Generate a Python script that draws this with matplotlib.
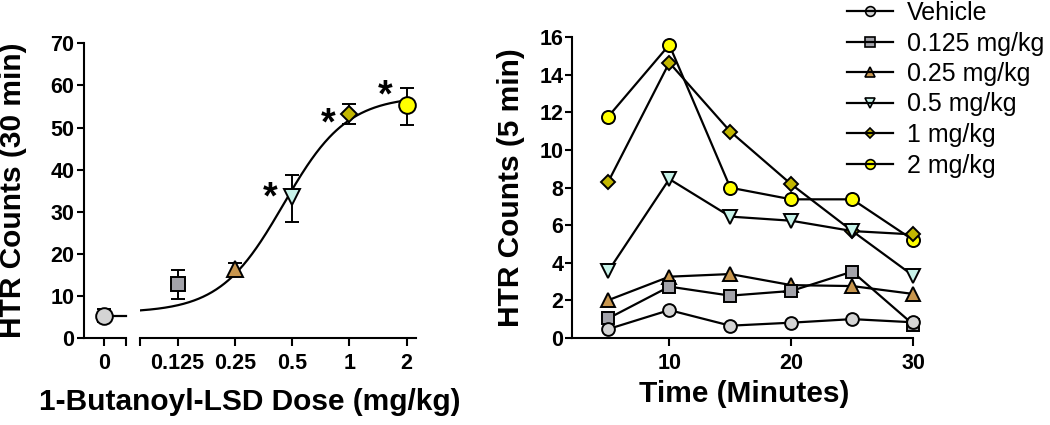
import numpy as np
import matplotlib
matplotlib.use("Agg")
import matplotlib.pyplot as plt
from matplotlib.lines import Line2D
from matplotlib.legend_handler import HandlerTuple

plt.rcParams['font.family'] = ['Liberation Sans', 'DejaVu Sans']

# ---------------- data ----------------
# Left panel: dose response (30 min totals)
dose_labels = ['0.125', '0.25', '0.5', '1', '2']
doses = [0.125, 0.25, 0.5, 1.0, 2.0]
dose_means = [12.8, 16.5, 33.5, 53.3, 55.4]
dose_err_low = [3.5, 1.2, 5.9, 2.4, 4.7]
dose_err_high = [3.4, 1.2, 5.3, 2.3, 4.1]
vehicle_mean = 5.3
vehicle_err = 1.5
signif = [False, False, True, True, True]
star_y = [34.2, 51.6, 58.4]

# fitted sigmoid (4-parameter logistic)
fit_bottom, fit_top, fit_ec50, fit_hill = 6.0, 57.5, 0.45, 2.6
fit_range = (0.08, 2.0)

# Right panel: time course (5 min bins)
times = [5, 10, 15, 20, 25, 30]
series_names = ['Vehicle', '0.125 mg/kg', '0.25 mg/kg', '0.5 mg/kg', '1 mg/kg', '2 mg/kg']
vehicle_tc = [0.46, 1.47, 0.64, 0.80, 0.99, 0.82]
d0125_tc = [1.03, 2.72, 2.24, 2.49, 3.52, 0.70]
d025_tc = [2.00, 3.25, 3.39, 2.80, 2.75, 2.33]
d05_tc = [3.55, 8.45, 6.45, 6.23, 5.68, 3.30]
d1_tc = [8.31, 14.65, 10.98, 8.17, 5.68, 5.50]
d2_tc = [11.78, 15.60, 7.99, 7.37, 7.37, 5.20]

# ---------------- styles ----------------
colors = ['#d4d4d4', '#a3a3aa', '#c8964e', '#c8f4ea', '#c2b600', '#ffff00']
markers = ['o', 's', '^', 'v', 'D', 'o']
ms_left = [12, 10, 12, 12, 8.5, 12]
ms_right = [9.2, 9.0, 9.5, 9.5, 7.3, 9.4]
LW = 1.6
EW = 1.4
TICK_FS = 15.5
LABEL_FS = 21.5

fig = plt.figure(figsize=(10.5, 4.25), dpi=100)
W, H = 1050.0, 425.0

def rect(x0, x1, ytop, ybot):
    return [x0 / W, 1 - ybot / H, (x1 - x0) / W, (ybot - ytop) / H]

ax0 = fig.add_axes(rect(84, 125.7, 43.3, 338))
ax1 = fig.add_axes(rect(140, 416, 43.3, 338))
ax2 = fig.add_axes(rect(571.7, 913.3, 37.3, 337.7))

for ax in (ax0, ax1, ax2):
    for s in ('top', 'right'):
        ax.spines[s].set_visible(False)
    for s in ('left', 'bottom'):
        ax.spines[s].set_linewidth(1.5)
    ax.tick_params(direction='out', length=6, width=1.5, labelsize=TICK_FS, pad=5)

def bold_ticks(ax):
    for lab in ax.get_xticklabels() + ax.get_yticklabels():
        lab.set_fontweight('bold')

# ----- left: vehicle segment -----
ax0.set_xlim(-1.0, 1.05)
ax0.set_ylim(0, 70)
ax0.set_yticks(np.arange(0, 71, 10))
ax0.set_xticks([0, 1.05])
ax0.set_xticklabels(['0', ''])
ax0.tick_params(axis='y', pad=2, length=5)
bold_ticks(ax0)
ax0.plot([0, 1.05], [vehicle_mean, vehicle_mean], color='k', lw=LW, zorder=2, clip_on=False)
ax0.errorbar([0], [vehicle_mean], yerr=[[vehicle_err], [vehicle_err]], fmt='none',
             ecolor='k', elinewidth=EW, capsize=5, capthick=EW, zorder=3)
ax0.plot([0], [vehicle_mean], marker='o', ms=ms_left[0], mfc=colors[0], mec='k',
         mew=EW, ls='none', zorder=4, clip_on=False)

# ----- left: dose segment -----
ax1.set_xscale('log')
ax1.set_xlim(0.0792, 2.24)
ax1.set_ylim(0, 70)
ax1.spines['left'].set_visible(False)
ax1.set_yticks([])
ax1.set_xticks([0.0792] + doses)
ax1.set_xticklabels([''] + dose_labels)
ax1.minorticks_off()
bold_ticks(ax1)

xf = np.logspace(np.log10(fit_range[0]), np.log10(fit_range[1]), 300)
yf = fit_bottom + (fit_top - fit_bottom) / (1 + (fit_ec50 / xf) ** fit_hill)
ax1.plot(xf, yf, color='k', lw=LW, zorder=2)

ax1.errorbar(doses, dose_means, yerr=[dose_err_low, dose_err_high], fmt='none',
             ecolor='k', elinewidth=EW, capsize=5, capthick=EW, zorder=3)
for i, (d, m) in enumerate(zip(doses, dose_means)):
    ax1.plot([d], [m], marker=markers[i + 1], ms=ms_left[i + 1], mfc=colors[i + 1],
             mec='k', mew=EW, ls='none', zorder=4, clip_on=False)

k = 0
for d, sig in zip(doses, signif):
    if sig:
        ax1.text(d * 0.77, star_y[k], '*', fontsize=27, fontweight='bold',
                 ha='center', va='center_baseline', zorder=5)
        k += 1

fig.text(13 / W, 1 - 190.5 / H, 'HTR Counts (30 min)', rotation=90, ha='center',
         va='center', fontsize=LABEL_FS, fontweight='bold')
fig.text(250 / W, 1 - 402 / H, '1-Butanoyl-LSD Dose (mg/kg)', ha='center',
         va='center', fontsize=LABEL_FS, fontweight='bold')

# ----- right: time course -----
tc = [vehicle_tc, d0125_tc, d025_tc, d05_tc, d1_tc, d2_tc]
ax2.set_xlim(2, 30)
ax2.set_ylim(0, 16)
ax2.set_xticks([10, 20, 30])
ax2.set_yticks(np.arange(0, 17, 2))
ax2.tick_params(axis='y', pad=1, length=5)
bold_ticks(ax2)

handles = []
for i in range(6):
    z = 10 - i
    ax2.plot(times, tc[i], color='k', lw=LW, marker=markers[i], ms=ms_right[i],
             mfc=colors[i], mec='k', mew=EW, zorder=z, clip_on=False)
    mk = Line2D([], [], ls='none', marker=markers[i], ms=7 if markers[i] != 'D' else 5.3,
                mfc=colors[i], mec='k', mew=1.2)
    ln = Line2D([], [], color='k', lw=LW)
    handles.append((mk, ln))

fig.text(511 / W, 1 - 187.5 / H, 'HTR Counts (5 min)', rotation=90, ha='center',
         va='center', fontsize=LABEL_FS, fontweight='bold')
fig.text(744 / W, 1 - 394 / H, 'Time (Minutes)', ha='center', va='center',
         fontsize=LABEL_FS, fontweight='bold')

leg = fig.legend(handles, series_names, loc='upper left',
                 bbox_to_anchor=(846.7 / W, 1 - 1 / H), frameon=False,
                 fontsize=18, handlelength=1.85, handletextpad=0.55,
                 labelspacing=0.26, borderpad=0, borderaxespad=0,
                 handler_map={tuple: HandlerTuple(ndivide=1, pad=0)})

fig.savefig('out.png', dpi=100)
